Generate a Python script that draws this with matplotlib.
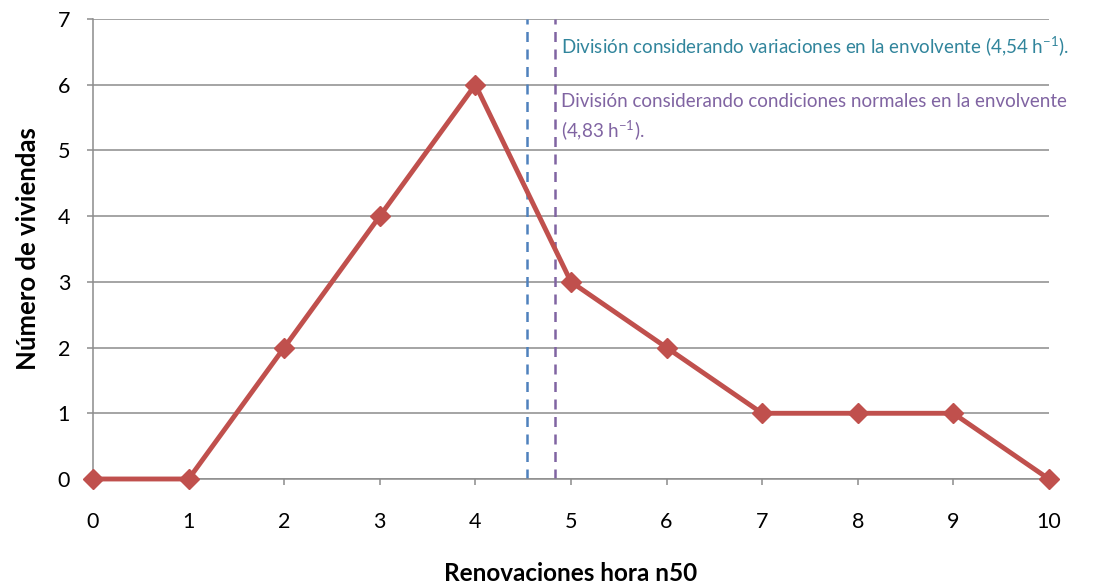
import matplotlib
matplotlib.use("Agg")
import matplotlib.pyplot as plt

plt.rcParams['font.family'] = ['Lato', 'DejaVu Sans']
plt.rcParams['mathtext.fontset'] = 'custom'
plt.rcParams['mathtext.rm'] = 'Lato'
plt.rcParams['mathtext.it'] = 'Lato:italic'
plt.rcParams['mathtext.bf'] = 'Lato:bold'

# Data
renovaciones = [0, 1, 2, 3, 4, 5, 6, 7, 8, 9, 10]
viviendas = [0, 0, 2, 4, 6, 3, 2, 1, 1, 1, 0]
division_variaciones = 4.54
division_normales = 4.83
x_ticks = list(range(0, 11))
y_ticks = list(range(0, 8))

fig = plt.figure(figsize=(10.96, 5.84), dpi=100)
ax = fig.add_axes([0.0849, 0.1798, 0.957 - 0.0849, 0.9675 - 0.1798])

grid_color = '#8c8c8c'
ax.set_xlim(0, 10)
ax.set_ylim(0, 7)
ax.set_yticks(y_ticks)
ax.set_xticks(x_ticks)
ax.yaxis.grid(True, color=grid_color, linewidth=1.1)
ax.set_axisbelow(True)
for s in ['top', 'right']:
    ax.spines[s].set_visible(False)
for s in ['left', 'bottom']:
    ax.spines[s].set_color(grid_color)
    ax.spines[s].set_linewidth(1.1)
ax.tick_params(axis='both', colors=grid_color, length=4.5, width=1.1,
               labelcolor='black', labelsize=15.5)
ax.tick_params(axis='y', pad=12)
ax.tick_params(axis='x', pad=19)

ax.axvline(division_variaciones, color='#4F81BD', linestyle=(0, (4, 3)), linewidth=1.8, zorder=2)
ax.axvline(division_normales, color='#8064A2', linestyle=(0, (4, 3)), linewidth=1.8, zorder=2)

ax.plot(renovaciones, viviendas, color='#C0504D', linewidth=3.5, marker='D',
        markersize=10, markerfacecolor='#C0504D', markeredgecolor='#C0504D',
        clip_on=False, zorder=5)

ax.text(4.9, 6.59, 'División considerando variaciones en la envolvente (4,54 h$^{-1}$).',
        color='#31859C', fontsize=13.5, va='center', ha='left')
ax.text(4.9, 5.5, 'División considerando condiciones normales en la envolvente\n(4,83 h$^{-1}$).',
        color='#8064A2', fontsize=13.5, va='center', ha='left', linespacing=1.47)

ax.set_xlabel('Renovaciones hora n50', fontsize=17.5, fontweight='bold', labelpad=22)
ax.set_ylabel('Número de viviendas', fontsize=18.5, fontweight='bold', labelpad=13)

fig.savefig('out.png', dpi=100)
